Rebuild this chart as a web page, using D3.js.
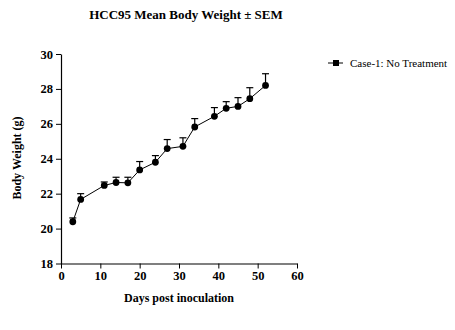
<!DOCTYPE html>
<html>
<head>
<meta charset="utf-8">
<script src="https://cdn.jsdelivr.net/npm/d3@7"></script>
<style>
  body { margin: 0; background: #fff; }
  svg { display: block; }
  text { font-family: "Liberation Serif", "Times New Roman", serif; fill: #000; }
</style>
</head>
<body>
<svg id="chart" width="455" height="330"></svg>
<script>
// data
const days = [3, 5, 11, 14, 17, 20, 24, 27, 31, 34, 39, 42, 45, 48, 52];
const meanWeight = [20.39, 21.67, 22.47, 22.64, 22.62, 23.36, 23.8, 24.58, 24.71, 25.82, 26.43, 26.89, 27.0, 27.44, 28.2];
const semWeight = [0.22, 0.33, 0.2, 0.3, 0.32, 0.48, 0.38, 0.52, 0.49, 0.48, 0.5, 0.38, 0.5, 0.63, 0.67];
const xTicks = [0, 10, 20, 30, 40, 50, 60];
const yTicks = [18, 20, 22, 24, 26, 28, 30];
const seriesName = "Case-1: No Treatment";

const svg = d3.select("#chart");

const x = d3.scaleLinear().domain([0, 60]).range([61, 297]);
const y = d3.scaleLinear().domain([18, 30]).range([263.5, 54]);

// title
svg.append("text")
    .attr("x", 186).attr("y", 19)
    .attr("text-anchor", "middle")
    .attr("font-size", 13).attr("font-weight", "bold")
    .text("HCC95 Mean Body Weight \u00b1 SEM");

// axes
const xAxis = svg.append("g").attr("transform", `translate(0,${y(18)})`);
xAxis.call(d3.axisBottom(x).tickValues(d3.range(0, 61, 2)).tickSize(2).tickFormat(""));
xAxis.call(d3.axisBottom(x).tickValues(xTicks).tickSize(5).tickSizeOuter(0).tickPadding(3));

const yAxis = svg.append("g").attr("transform", `translate(${x(0)},0)`);
yAxis.call(d3.axisLeft(y).tickValues(d3.range(18, 31, 1)).tickSize(2).tickFormat(""));
yAxis.call(d3.axisLeft(y).tickValues(yTicks).tickSize(5).tickSizeOuter(0).tickPadding(3));

[xAxis, yAxis].forEach(a => a
    .attr("font-family", "Liberation Serif, serif")
    .selectAll("text")
    .attr("font-size", 12.5)
    .attr("font-weight", "bold"));

svg.selectAll(".domain").attr("stroke", "#000").attr("stroke-width", 1.2);
svg.selectAll(".tick line").attr("stroke", "#000");

// axis labels
svg.append("text")
    .attr("x", 179).attr("y", 302)
    .attr("text-anchor", "middle")
    .attr("font-size", 12).attr("font-weight", "bold")
    .text("Days post inoculation");

svg.append("text")
    .attr("transform", `translate(21,158) rotate(-90)`)
    .attr("text-anchor", "middle")
    .attr("font-size", 12).attr("font-weight", "bold")
    .text("Body Weight (g)");

// series
const data = days.map((d, i) => ({ day: d, mean: meanWeight[i], sem: semWeight[i] }));

svg.append("path")
    .datum(data)
    .attr("fill", "none")
    .attr("stroke", "#000")
    .attr("stroke-width", 1)
    .attr("d", d3.line().x(d => x(d.day)).y(d => y(d.mean)));

const err = svg.append("g").attr("stroke", "#000").attr("stroke-width", 1.2);
err.selectAll("line.bar")
    .data(data)
    .join("line")
    .attr("class", "bar")
    .attr("x1", d => x(d.day)).attr("x2", d => x(d.day))
    .attr("y1", d => y(d.mean)).attr("y2", d => y(d.mean + d.sem));
err.selectAll("line.cap")
    .data(data)
    .join("line")
    .attr("class", "cap")
    .attr("x1", d => x(d.day) - 3.5).attr("x2", d => x(d.day) + 3.5)
    .attr("y1", d => y(d.mean + d.sem)).attr("y2", d => y(d.mean + d.sem));

svg.append("g")
    .selectAll("circle")
    .data(data)
    .join("circle")
    .attr("cx", d => x(d.day))
    .attr("cy", d => y(d.mean))
    .attr("r", 3.4)
    .attr("fill", "#000");

// legend
const legend = svg.append("g").attr("transform", "translate(328,63)");
legend.append("line")
    .attr("x1", 0).attr("x2", 15).attr("y1", 0).attr("y2", 0)
    .attr("stroke", "#000").attr("stroke-width", 1);
legend.append("rect")
    .attr("x", 5).attr("y", -3).attr("width", 6).attr("height", 6)
    .attr("fill", "#000");
legend.append("text")
    .attr("x", 22).attr("y", 4)
    .attr("font-size", 11)
    .text(seriesName);
</script>
</body>
</html>
